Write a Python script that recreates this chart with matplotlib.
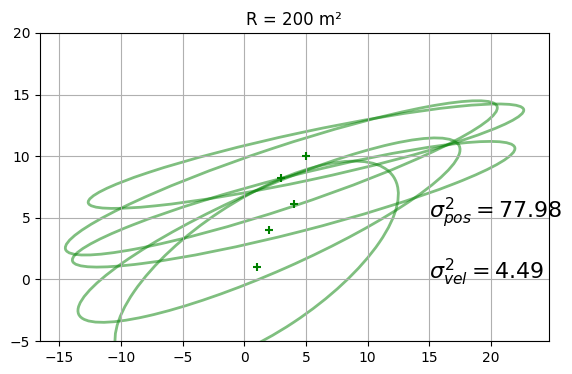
import numpy as np
import matplotlib
matplotlib.use("Agg")
import matplotlib.pyplot as plt
from matplotlib.patches import Ellipse

# estado estimado (posicion, velocidad) en cada paso
pasos = [1, 2, 3, 4, 5]
vel_est = [1.0, 4.0, 8.24, 6.1, 10.0]

# covarianzas P = [[var_pos, cov_pv], [cov_pv, var_vel]]
var_pos = [33.0, 60.0, 76.7, 80.5, 77.98]
cov_pv = [17.0, 25.3, 24.9, 20.3, 16.5]
var_vel = [18.5, 14.0, 9.8, 6.5, 4.49]

titulo = "R = 200 m²"

fig = plt.figure(figsize=(5.72, 3.74), dpi=100)
ax = fig.add_axes([0.0699, 0.0882, 0.8891, 0.8236])

for i in range(len(pasos)):
    P = np.array([[var_pos[i], cov_pv[i]], [cov_pv[i], var_vel[i]]])
    U, s, _ = np.linalg.svd(P)
    ang = np.degrees(np.arctan2(U[1, 0], U[0, 0]))
    # elipse de 2 sigma
    e = Ellipse((pasos[i], vel_est[i]), 2 * 2 * np.sqrt(s[0]), 2 * 2 * np.sqrt(s[1]),
                angle=ang, facecolor='none', edgecolor='g', lw=2, alpha=0.5)
    ax.add_patch(e)
    ax.scatter(pasos[i], vel_est[i], marker='+', color='g', zorder=3)

ax.text(15, 5, r'$\sigma^2_{pos} = %.2f$' % var_pos[-1], fontsize=16)
ax.text(15, 0, r'$\sigma^2_{vel} = %.2f$' % var_vel[-1], fontsize=16)

ax.set_xlim(-16.57, 24.67)
ax.set_ylim(-5, 20)
ax.set_title(titulo)
ax.grid(True)

fig.savefig("out.png", dpi=100)
